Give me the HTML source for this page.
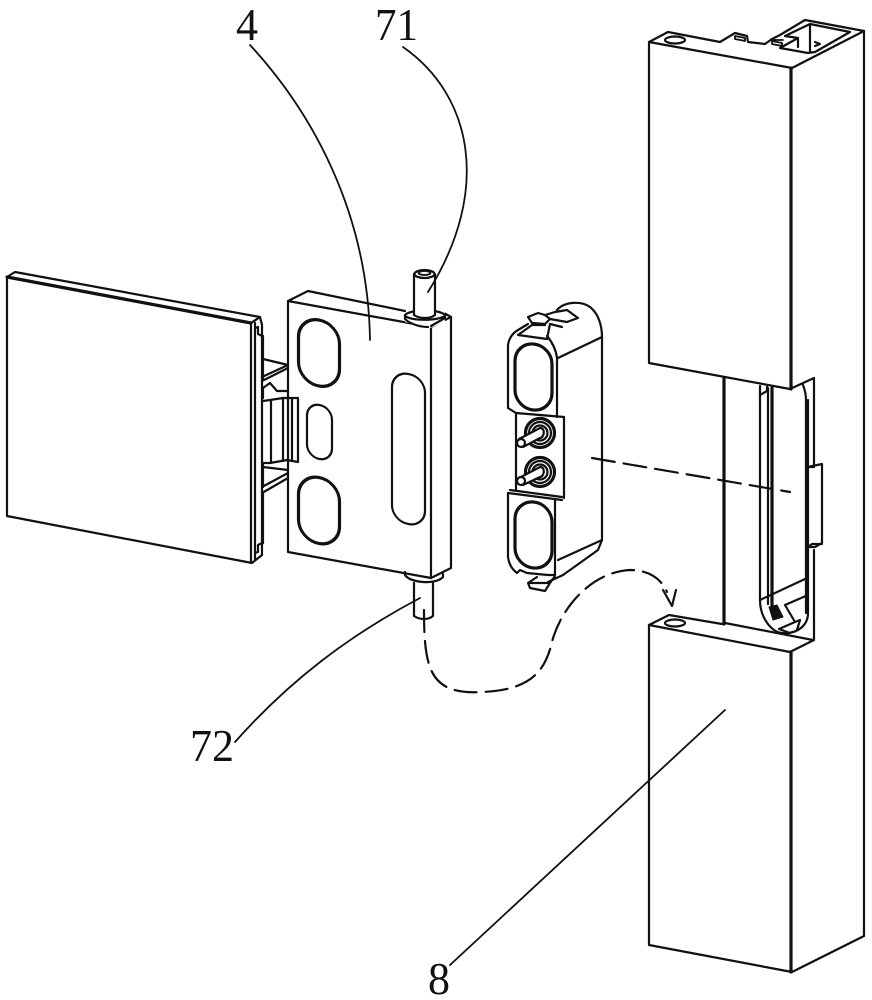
<!DOCTYPE html>
<html><head><meta charset="utf-8"><style>
html,body{margin:0;padding:0;background:#fff}
svg{display:block}
text{font-family:"Liberation Serif","Noto Serif CJK SC",serif;font-size:46px;font-weight:normal;fill:#111;stroke:none}
.t{stroke-width:3.2}
.n{stroke-width:1.8}
</style></head><body>
<svg width="872" height="1000" viewBox="0 0 872 1000" fill="none" stroke="#111" stroke-width="2.2" stroke-linejoin="round" stroke-linecap="round">
<!-- upper column -->
<path d="M649 42L668 32L720 42L735 33L747 36L748 42L765 44L772 39L780 35L805 20L864 31L792 68Z"/>
<path d="M649 42V363L790 389"/>
<path class="t" d="M791 68V389"/>
<path d="M810 24L850 32L815 52L808 53L780 48L798 38L785 36L810 24ZM810 24V52M798 38V47M815 46L820 44L815 42"/>
<path class="n" d="M735 36L745 38V41L735 39ZM772 41L782 43V46L772 44ZM772 40H783"/>
<ellipse cx="675" cy="40" rx="10" ry="3.500"/>
<path d="M864 31V936"/>
<!-- mid section -->
<path class="t" d="M724 378V624"/>
<path d="M760 386V600C760 618 772 633 783 633C798 634 808 625 808 613V400"/>
<path d="M803 385C805 390 806 394 806 400V613"/>
<path d="M768 388V604"/>
<path class="t" d="M772 388V606"/>
<path d="M790 389L814 378V467H808M808 467L822 464V543L815 547H808L812 544H822M814 550V640L790 652"/>
<path d="M760 395L767 391V387M760 600L805 579M785 605L808 595M785 605L795 622L779 629L790 633M795 622L800 620L797 630"/>
<path d="M769 607L773 620L783 617L777 605Z" fill="#111" stroke-width="1"/>
<!-- lower column -->
<path d="M649 625L669 615L722 624"/>
<path d="M725 623L813 640"/>
<path d="M649 625L790 652"/>
<path d="M649 625V945L792 972L864 936"/>
<path class="t" d="M791 652V972"/>
<ellipse cx="675" cy="623" rx="10" ry="3.500"/>
<!-- left panel -->
<path d="M7 277L15 272L260 317L262 325V555L252 563L7 516Z"/>
<path class="t" d="M7 277L251 323"/>
<path d="M251 323L260 317M251 323V562"/>
<path d="M255 323V328L258 327V334L262 336M255 323V560M255 553L258 552V545L262 543"/>
<path d="M263 336V380M263 493V543"/>
<path d="M263 359L288 365L262 377M262 381L288 368"/>
<path d="M263 388L270 383L277 391H288M263 388V398M263 401L270 400L283 398H298V462L287 460L270 463L263 463"/>
<path d="M271 400V463M283 398V461M292 398V461"/>
<path d="M263 463V487M263 467L288 470M262 487L288 473M262 493L288 478"/>
<!-- hinge body -->
<path d="M288 301L308 291L405 311M288 301V552L431 578L451 568V317L444 313M431 327L288 301"/>
<path d="M431 327V578M431 327L451 317"/>
<g transform="translate(319 353) skewY(10)"><rect x="-20.500" y="-33" width="41" height="66" rx="20.500" class="t"/></g>
<g transform="translate(319.500 432) skewY(10)"><rect x="-12.500" y="-27" width="25" height="54" rx="12.500"/></g>
<g transform="translate(319 510.500) skewY(10)"><rect x="-20.500" y="-33" width="41" height="66" rx="20.500" class="t"/></g>
<g transform="translate(408.500 449) skewY(10)"><rect x="-16.500" y="-75" width="33" height="150" rx="16"/></g>
<!-- pins -->
<path fill="#fff" stroke="none" d="M405 312H445V322L430 328L405 322Z"/>
<path d="M405 315V319C410 324 420 327 428 327M405 315C410 309 440 309 445 315V318L431 326"/>
<path d="M405 316C412 321 436 321 445 316"/>
<path fill="#fff" d="M414 274V315C420 319 430 319 435 315V274"/>
<ellipse cx="424.500" cy="274" rx="10" ry="4" fill="#fff"/>
<ellipse cx="424.500" cy="273" rx="6" ry="2" class="n"/>
<path d="M405 575C410 583 436 585 443 577L443 574M405 575V572"/>
<path d="M414 583V616C420 620 428 620 433 616V583"/>
<!-- clip -->
<path d="M508 408V345C509 338 513 333 518 330L528 324"/>
<path d="M547 336C552 342 556 350 557 358V417M508 408L516 413L564 417"/>
<path d="M557 310C565 301 582 301 590 307C598 313 602 325 602 337V540L598 550L563 575L548 582"/>
<path d="M558 358L602 337"/>
<path d="M528 317L538 313L545 315L555 312L567 310L578 318L567 322L550 319L545 324L532 323L528 317Z"/>
<path d="M518 335L532 325H545M550 324L562 327M518 335L547 339L550 324"/>
<path d="M545 315L550 319"/>
<g transform="translate(533.500 377) skewY(5)"><rect x="-18.500" y="-33" width="37" height="66" rx="18.500" class="t"/></g>
<g transform="translate(533.500 535) skewY(5)"><rect x="-18.500" y="-33" width="37" height="66" rx="18.500" class="t"/></g>
<path d="M516 413V490M564 417V498"/>
<path d="M508 493L562 500M510 490L562 497"/>
<path d="M508 493V557C509 565 513 570 517 573L520 570L527 573L548 575L555 575M555 500V575"/>
<path d="M558 560L602 540"/>
<path d="M537 577L528 583L530 588L545 591L550 583L528 583M550 583L555 576"/>
<circle cx="540" cy="433" r="14.500" class="t"/><circle cx="540" cy="433" r="11"/><circle cx="540" cy="433" r="7.500"/>
<circle cx="540" cy="472" r="14.500" class="t"/><circle cx="540" cy="472" r="11"/><circle cx="540" cy="472" r="7.500"/>
<path d="M519 439L540 428C546 428 544 438 540 438L523 447" fill="#fff"/>
<circle cx="521" cy="443" r="4" fill="#fff"/>
<path d="M519 478L540 467C546 467 544 477 540 477L523 485" fill="#fff"/>
<circle cx="521" cy="481" r="4" fill="#fff"/>
<!-- leaders -->
<path class="n" d="M250 45C310 110 368 210 370 340"/>
<path class="n" d="M403 47C472 95 492 190 428 292"/>
<path class="n" d="M235 742C290 680 350 635 420 598"/>
<path class="n" d="M450 965L725 710"/>
<!-- dashed -->
<path d="M592 458L790 492" stroke-dasharray="23 9"/>
<path d="M424 610C424 670 430 695 482 692C530 690 545 672 552 642C560 610 590 572 630 570C650 570 662 580 667 592" stroke-dasharray="22 9"/>
<path d="M663 590L672 606L676 590"/>
<text x="236" y="40" textLength="22" lengthAdjust="spacingAndGlyphs">4</text>
<text x="375" y="40" textLength="43" lengthAdjust="spacingAndGlyphs">71</text>
<text x="190" y="761" textLength="44" lengthAdjust="spacingAndGlyphs">72</text>
<text x="428" y="994" textLength="22" lengthAdjust="spacingAndGlyphs">8</text>
</svg>
</body></html>
